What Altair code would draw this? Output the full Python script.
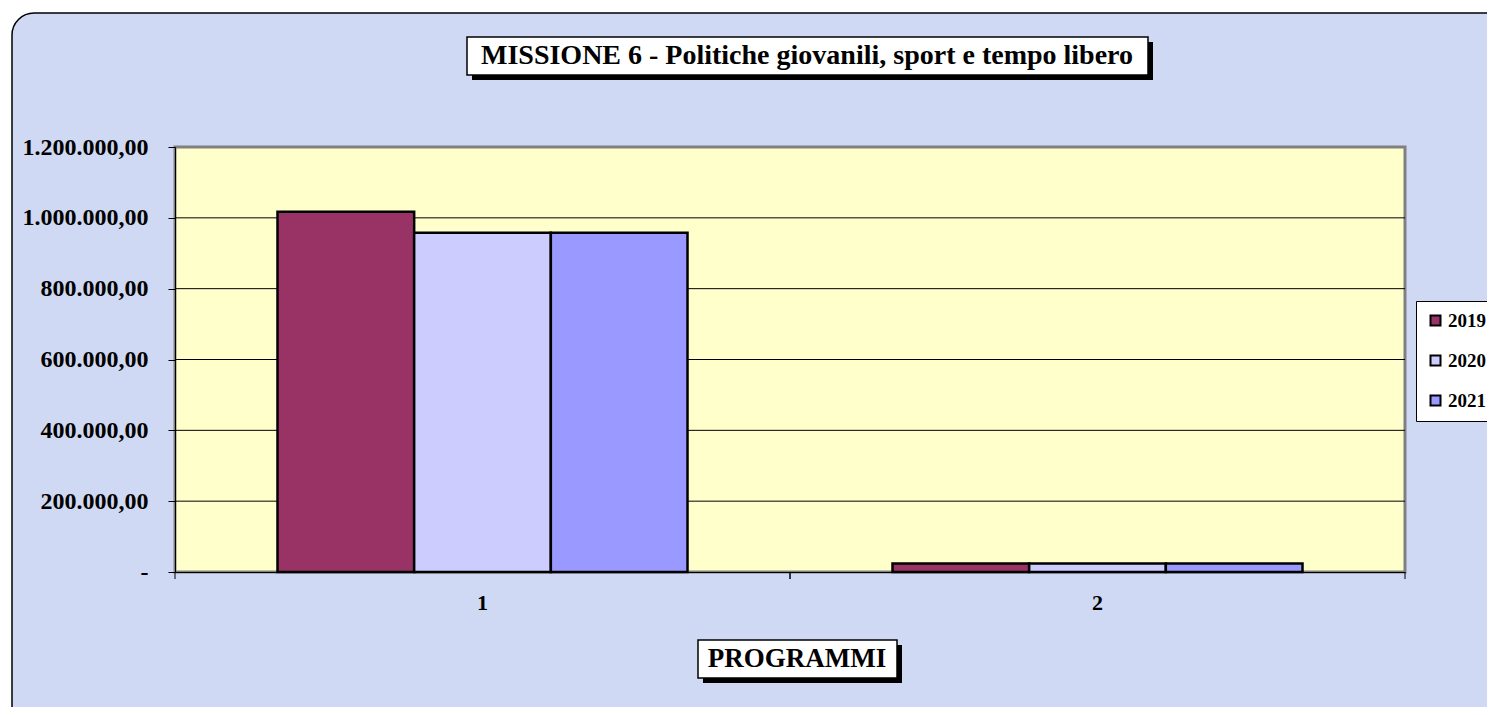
import altair as alt
import pandas as pd

# ---- data ----
programmi = ["1", "1", "1", "2", "2", "2"]
anni = ["2019", "2020", "2021", "2019", "2020", "2021"]
valori = [1017000, 958000, 958000, 24000, 24000, 24000]
anni_legenda = ["2019", "2020", "2021"]
colori = ["#993366", "#ccccff", "#9999ff"]
griglia = [200000, 400000, 600000, 800000, 1000000]
tick_y = [0, 200000, 400000, 600000, 800000, 1000000, 1200000]
categorie = ["1", "2"]
TITOLO = "MISSIONE 6 - Politiche giovanili, sport e tempo libero"
TITOLO_X = "PROGRAMMI"

df = pd.DataFrame({"programma": programmi, "anno": anni, "valore": valori})
grid_df = pd.DataFrame({"v": griglia})
cat_df = pd.DataFrame({"programma": categorie})
one = pd.DataFrame({"k": [0]})

W, H = 1230, 425
FONT = "Liberation Serif"
STEP_PAD = W / 2 / 6  # half of inner padding in pixels

bg = alt.Chart(one).mark_rect(
    fill="#cfd9f3", stroke="black", strokeWidth=1.5, cornerRadius=22
).encode(x=alt.value(-163), x2=alt.value(1400), y=alt.value(-134), y2=alt.value(600))

plot_bg = alt.Chart(one).mark_rect(
    fill="#ffffcc", stroke="#808080", strokeWidth=3
).encode(x=alt.value(0), x2=alt.value(W), y=alt.value(0), y2=alt.value(H))

yscale = alt.Scale(domain=[0, 1200000], nice=False)
xscale = alt.Scale(domain=categorie, paddingInner=1 / 3, paddingOuter=1 / 6)

yaxis = alt.Axis(
    title=None, values=tick_y, format=",.2f",
    labelExpr="datum.value == 0 ? '-' : datum.label",
    labelFontSize=24, labelFont=FONT, labelFontWeight="bold",
    labelColor="black", domainColor="black", tickColor="black",
    tickSize=7, labelPadding=20, grid=False, zindex=1,
)
xaxis = alt.Axis(
    title=None, labelAngle=0, labelFontSize=22, labelFont=FONT,
    labelFontWeight="bold", labelColor="black", domainColor="black",
    ticks=False, labelPadding=20, zindex=1,
)

grid = alt.Chart(grid_df).mark_rule(color="black", strokeWidth=1).encode(
    y=alt.Y("v:Q", scale=yscale, axis=yaxis),
    x=alt.value(0), x2=alt.value(W),
)

bars = alt.Chart(df).mark_bar(stroke="black", strokeWidth=2.5, opacity=1).encode(
    x=alt.X("programma:N", scale=xscale, axis=xaxis),
    xOffset=alt.XOffset("anno:N", scale=alt.Scale(paddingInner=0, paddingOuter=0)),
    y=alt.Y("valore:Q", scale=yscale, axis=yaxis),
    color=alt.Color(
        "anno:N",
        scale=alt.Scale(domain=anni_legenda, range=colori),
        legend=alt.Legend(
            title=None, orient="none", legendX=1241, legendY=154,
            fillColor="white", strokeColor="black", padding=10,
            symbolType="square", symbolSize=100, symbolStrokeColor="black",
            symbolStrokeWidth=2, symbolOpacity=1, labelFont=FONT,
            labelFontSize=19, labelFontWeight="bold", labelColor="black",
            rowPadding=20, symbolOffset=0, labelOffset=3,
        ),
    ),
)

tick_left = alt.Chart(cat_df).mark_rule(color="black", strokeWidth=1, xOffset=-STEP_PAD).encode(
    x=alt.X("programma:N", scale=xscale, bandPosition=0, axis=xaxis),
    y=alt.value(H), y2=alt.value(H + 7),
)
tick_right = alt.Chart(cat_df).mark_rule(color="black", strokeWidth=1, xOffset=STEP_PAD).encode(
    x=alt.X("programma:N", scale=xscale, bandPosition=1, axis=xaxis),
    y=alt.value(H), y2=alt.value(H + 7),
)


def box(x1, x2, y1, y2, text, cx, cy, size):
    shadow = alt.Chart(one).mark_rect(fill="black").encode(
        x=alt.value(x1 + 5), x2=alt.value(x2 + 5), y=alt.value(y1 + 5), y2=alt.value(y2 + 5)
    )
    face = alt.Chart(one).mark_rect(fill="white", stroke="black", strokeWidth=1.5).encode(
        x=alt.value(x1), x2=alt.value(x2), y=alt.value(y1), y2=alt.value(y2)
    )
    label = alt.Chart(one).mark_text(
        text=text, font=FONT, fontSize=size, fontWeight="bold", color="black",
        align="center", baseline="middle",
    ).encode(x=alt.value(cx), y=alt.value(cy))
    return [shadow, face, label]


title_layers = box(292, 973, -110, -72, TITOLO, 632, -91, 28)
xt_layers = box(523, 722, 493, 531, TITOLO_X, 622, 512, 27)

chart = alt.layer(
    bg, plot_bg, grid, bars, tick_left, tick_right, *title_layers, *xt_layers
).properties(
    width=W, height=H,
    autosize=alt.AutoSizeParams(type="none"),
    padding={"left": 167, "top": 139, "right": 82, "bottom": 135},
    background="white",
).configure_view(stroke=None, fill=None).configure(
    locale={"number": {"decimal": ",", "thousands": ".", "grouping": [3], "currency": ["€", ""]}}
)

chart.save("out.html", embed_options={"renderer": "svg", "actions": False})
